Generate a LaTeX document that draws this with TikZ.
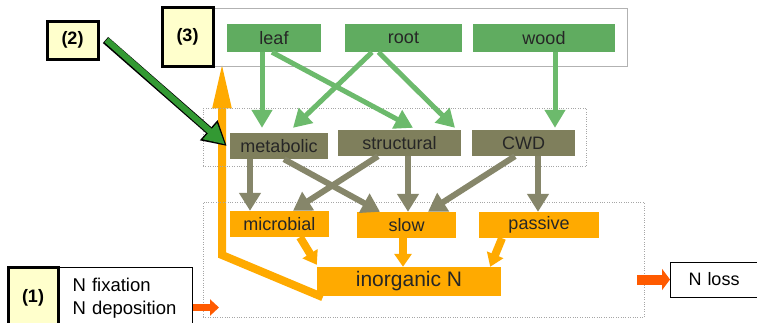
\documentclass[tikz,border=0pt]{standalone}
\usepackage{fontspec}
\setmainfont{Liberation Sans}
\usetikzlibrary{arrows.meta,backgrounds}

\definecolor{leafgreen}{HTML}{60AC60}
\definecolor{arrowgreen}{HTML}{6CBA6C}
\definecolor{litterolive}{HTML}{7F7F5C}
\definecolor{olivearrow}{HTML}{86866A}
\definecolor{soilorange}{HTML}{FFAA00}
\definecolor{fluxred}{HTML}{FF5A00}
\definecolor{darkgreen}{HTML}{339933}
\definecolor{noteyellow}{HTML}{FFFFCC}

\begin{document}
\begin{tikzpicture}[x=1pt, y=-1pt,
  every node/.style={font=\fontsize{18}{21}\selectfont, text=black!85},
  pool/.style={inner sep=0pt, minimum height=28pt},
  plantpool/.style={pool, fill=leafgreen},
  litterpool/.style={pool, fill=litterolive, minimum height=26pt},
  soilpool/.style={pool, fill=soilorange, minimum height=26pt},
  plantgroup/.style={draw=gray!60, line width=0.8pt, inner sep=0pt},
  group/.style={draw=gray!70, dotted, inner sep=0pt},
  tag/.style={draw=black, line width=3pt, fill=noteyellow, inner sep=0pt,
    text=black, font=\fontsize{18}{21}\selectfont\bfseries},
  extbox/.style={draw=black, line width=1pt, align=left, text=black},
  greenflow/.style={draw=arrowgreen, line width=5pt, -{Triangle[width=20pt,length=18pt]}},
  litterflow/.style={draw=olivearrow, line width=6pt, -{Triangle[width=21pt,length=18pt]}},
  soilflow/.style={draw=soilorange, line width=8pt, -{Triangle[width=17pt,length=13pt]}},
]

  % Bounding box of the scheme
  \useasboundingbox (0,0) rectangle (757,322);

  %%%%%%%%%%%%%%%%%%%%%%%%%%%%%%%%% Groups of pools %%%%%%%%%%%%%%%%%%%%%%%%%%%%%%%%%%%%
  \draw (394,37) node[plantgroup, minimum width=466pt, minimum height=58pt] (plant) {} ;
  \draw (394.5,137) node[group, minimum width=383pt, minimum height=58pt] (litter) {} ;
  \draw (423.5,259.5) node[group, minimum width=441pt, minimum height=115pt] (soil) {} ;

  %%%%%%%%%%%%%%%%%%%%%%%%%%%%%%%%% Pools %%%%%%%%%%%%%%%%%%%%%%%%%%%%%%%%%%%%

  % Plant pools
  \foreach \n/\x/\w in {leaf/274/94, root/403.5/117, wood/544/142} {
    \draw (\x,38) node[plantpool, minimum width=\w pt] (\n) {\n} ;
  }

  % Litter pools
  \draw (279,146) node[litterpool, minimum width=98pt] (metabolic) {metabolic} ;
  \draw (399.5,143) node[litterpool, minimum width=123pt] (structural) {structural} ;
  \draw (523.5,143) node[litterpool, minimum width=103pt] (CWD) {CWD} ;

  % Soil pools
  \draw (279.5,224) node[soilpool, minimum width=99pt] (microbial) {microbial} ;
  \draw (406.5,225) node[soilpool, minimum width=99pt] (slow) {slow} ;
  \draw (539,225) node[soilpool, minimum width=120pt] (passive) {passive} ;
  \draw (409,281.5) node[soilpool, minimum width=184pt, minimum height=29pt,
    font=\fontsize{21}{24}\selectfont] (inorgN) {inorganic N} ;

  % Inputs and losses
  \draw (59,267) node[extbox, anchor=north west, minimum height=62pt, text width=107pt,
    inner xsep=13pt, font=\fontsize{18.5}{23}\selectfont] (Nin) {N fixation\\N deposition} ;
  \draw (670,279.5) node[extbox, anchor=west, minimum height=35pt, text width=70pt,
    inner xsep=18pt] (Nloss) {N loss} ;

  % Labels
  \draw (33,298) node[tag, minimum width=50pt, minimum height=62pt] (tag1) {(1)} ;
  \draw (72.5,40) node[tag, minimum width=51pt, minimum height=38pt] (tag2) {(2)} ;
  \draw (187.5,36.5) node[tag, minimum width=51pt, minimum height=59pt] (tag3) {(3)} ;

  %%%%%%%%%%%%%%%%%%%%%%%%%%%%%%%%% Fluxes %%%%%%%%%%%%%%%%%%%%%%%%%%%%%%%%%%%%

  % Uptake of inorganic N by the plant
  \coordinate (bend) at (222,255) ;
  \begin{scope}[on background layer]
    \draw[draw=soilorange, line width=8pt, -{Triangle[width=17pt,length=48pt]}]
      ([xshift=6pt,yshift=-1pt]inorgN.south west) -- (bend) -- ([yshift=6pt]plant.south -| bend) ;
  \end{scope}

  % Plant to litter
  \draw[greenflow] ([xshift=-12pt]leaf.south) -- ([xshift=-17pt,yshift=5pt]metabolic.north) ;
  \draw[greenflow] ([xshift=-2pt]leaf.south) -- ([xshift=13.5pt,yshift=2pt]structural.north) ;
  \draw[greenflow] ([xshift=-31.5pt]root.south) -- ([xshift=14pt,yshift=5pt]metabolic.north) ;
  \draw[greenflow] ([xshift=-25pt]root.south) -- ([xshift=55.5pt,yshift=2pt]structural.north) ;
  \draw[greenflow] ([xshift=11pt]wood.south) -- ([xshift=31.5pt,yshift=2pt]CWD.north) ;

  % Litter to soil
  \draw[litterflow] ([xshift=-29pt]metabolic.south) -- ([xshift=-29.5pt]microbial.north) ;
  \draw[litterflow] ([xshift=5pt]metabolic.south) -- ([xshift=-26.5pt]slow.north) ;
  \draw[litterflow] ([xshift=-21.5pt]structural.south) -- ([xshift=13.5pt]microbial.north) ;
  \draw[litterflow] ([xshift=8.5pt]structural.south) -- ([xshift=1.5pt]slow.north) ;
  \draw[litterflow] ([xshift=-8.5pt]CWD.south) -- ([xshift=21.5pt]slow.north) ;
  \draw[litterflow] ([xshift=14.5pt]CWD.south) -- ([xshift=-1pt]passive.north) ;

  % Soil to inorganic N
  \draw[soilflow] ([xshift=20.5pt]microbial.south) -- ([yshift=2pt]inorgN.north west) ;
  \draw[soilflow] ([xshift=-3.5pt]slow.south) -- ([xshift=-6pt]inorgN.north) ;
  \draw[soilflow] ([xshift=-37pt]passive.south) -- ([xshift=-11pt]inorgN.north east) ;

  % Input and loss
  \draw[draw=fluxred, line width=7pt, -{Triangle[width=16pt,length=9pt]}]
    ([yshift=-9pt]Nin.east) -- ([shift={(26,9)}]Nin.east) ;
  \draw[draw=fluxred, line width=10pt, -{Triangle[width=21pt,length=8pt]}]
    ([xshift=-7pt]Nloss.west -| soil.east) -- (Nloss.west) ;

  % Pointer of label (2)
  \draw[draw=black, line width=8pt, -{Triangle[width=25pt,length=24pt]}]
    ([xshift=6pt]tag2.east) -- ([xshift=-3pt]metabolic.west) ;
  \draw[draw=darkgreen, line width=6pt, -{Triangle[width=20pt,length=20pt]}, shorten >=2.5pt]
    ([xshift=7pt]tag2.east) -- ([xshift=-3pt]metabolic.west) ;

\end{tikzpicture}
\end{document}
